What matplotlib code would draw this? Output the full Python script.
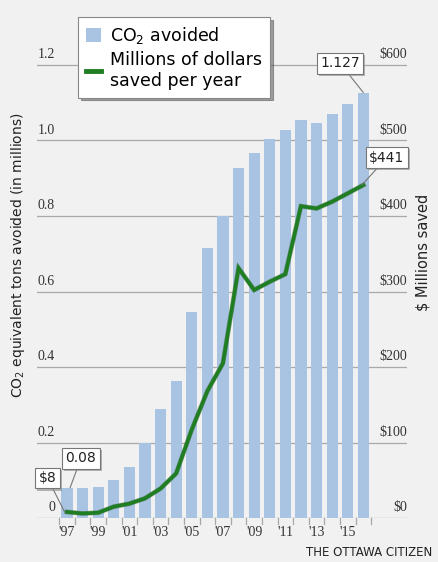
import matplotlib.pyplot as plt
import matplotlib.patheffects as pe
from matplotlib.patches import Patch
from matplotlib.lines import Line2D
from matplotlib.transforms import blended_transform_factory

# Data
years = list(range(1997, 2017))
co2_avoided = [0.08, 0.08, 0.083, 0.10, 0.136, 0.198, 0.29, 0.364, 0.546, 0.714,
               0.80, 0.928, 0.968, 1.003, 1.028, 1.054, 1.046, 1.07, 1.097, 1.127]
dollars_saved = [8, 6, 7, 15, 19, 26, 39, 59, 117, 168,
                 205, 331, 302, 313, 323, 413, 410, 419, 430, 441]
left_ticks = [0, 0.2, 0.4, 0.6, 0.8, 1.0, 1.2]
left_labels = ['0', '0.2', '0.4', '0.6', '0.8', '1.0', '1.2']
right_labels = ['$0', '$100', '$200', '$300', '$400', '$500', '$600']
year_labels = ["'97", "'99", "'01", "'03", "'05", "'07", "'09", "'11", "'13", "'15"]

bg = '#f1f1f1'
bar_color = '#a9c3e2'
green = '#1f7d22'
grid_c = '#a8a8a8'
serif = 'Liberation Serif'

fig = plt.figure(figsize=(4.38, 5.62), dpi=100, facecolor=bg)
ax = fig.add_axes([37 / 438, 44 / 562, 370 / 438, 498 / 562])
ax.set_facecolor(bg)
ax.set_xlim(1995.08, 2018.8)
ax.set_ylim(0, 498 / 377.5)
for s in ax.spines.values():
    s.set_visible(False)
ax.set_xticks([])
ax.set_yticks([])

# gridlines and axis labels
for v in left_ticks:
    ax.axhline(v, color=grid_c, lw=0.9, zorder=0)
trans = blended_transform_factory(ax.transAxes, ax.transData)
for v, l, r in zip(left_ticks, left_labels, right_labels):
    ax.text(18 / 370, v + 0.01, l, transform=trans, ha='right', va='bottom',
            fontsize=10, family=serif, color='#333333')
    ax.text(1.0, v + 0.01, r, transform=trans, ha='right', va='bottom',
            fontsize=10, family=serif, color='#333333')

# bars
ax.bar(years, co2_avoided, width=0.72, color=bar_color, zorder=2)

# line on the dollar scale (600 $ == 1.2 on the left)
ax2 = ax.twinx()
ax2.set_ylim(0, 498 / 377.5 * 500)
ax2.axis('off')
ax2.plot(years, dollars_saved, color=green, lw=2.6, zorder=3, solid_joinstyle='miter',
         path_effects=[pe.Stroke(linewidth=3.4, foreground='#2c5e2c', alpha=0.5), pe.Normal()])

# x ticks at bar edges and year labels
for e in range(21):
    ax.plot([1996.5 + e, 1996.5 + e], [0, -0.016], color=grid_c, lw=0.9, clip_on=False)
for i, lab in enumerate(year_labels):
    ax.text(1997 + 2 * i, -0.022, lab, ha='center', va='top', fontsize=10,
            family=serif, color='#333333')

# callouts
shadow = [pe.withSimplePatchShadow(offset=(1.5, -1.5), shadow_rgbFace='#888888', alpha=0.6)]
box = dict(boxstyle='square,pad=0.25', fc='white', ec='#777777', lw=0.8)
arrow = dict(arrowstyle='-', color='#777777', lw=0.8, shrinkA=0, shrinkB=0)


def callout(axis, text, xy, xytext):
    t = axis.annotate(text, xy=xy, xytext=xytext, textcoords='data', fontsize=10,
                      ha='center', va='center', bbox=box, arrowprops=arrow,
                      color='#222222', zorder=6)
    t.get_bbox_patch().set_path_effects(shadow)


callout(ax, '0.08', (1997.2, co2_avoided[0]), (1997.9, 0.158))
callout(ax2, '$8', (1996.85, dollars_saved[0]), (1995.75, 53))
callout(ax, '1.127', (2016, co2_avoided[-1]), (2014.5, 1.205))
callout(ax2, '$441', (2015.9, dollars_saved[-1]), (2017.5, 477))

# legend
handles = [Patch(facecolor=bar_color, edgecolor='none'),
           Line2D([0], [0], color=green, lw=3.5)]
leg = ax.legend(handles, ['CO$_2$ avoided', 'Millions of dollars\nsaved per year'],
                loc='upper left', bbox_to_anchor=(78 / 438, 1 - 17 / 562),
                bbox_transform=fig.transFigure, fontsize=12.5, frameon=True,
                fancybox=False, shadow=True, framealpha=1, edgecolor='#888888',
                handlelength=0.9, handleheight=0.9, handletextpad=0.5,
                labelspacing=0.3, borderpad=0.45, borderaxespad=0)
leg.get_frame().set_linewidth(0.8)
leg.set_zorder(7)

# axis titles and credit
fig.text(18 / 438, 1 - 255 / 562, 'CO$_2$ equivalent tons avoided (in millions)',
         rotation=90, ha='center', va='center', fontsize=10, color='#222222')
fig.text(423 / 438, 1 - 252 / 562, '$ Millions saved', rotation=90,
         ha='center', va='center', fontsize=10.5, color='#222222')
fig.text(432 / 438, 1 - 553 / 562, 'THE OTTAWA CITIZEN', ha='right', va='center',
         fontsize=8.5, color='#222222')

fig.savefig('out.png', dpi=100, facecolor=bg)
